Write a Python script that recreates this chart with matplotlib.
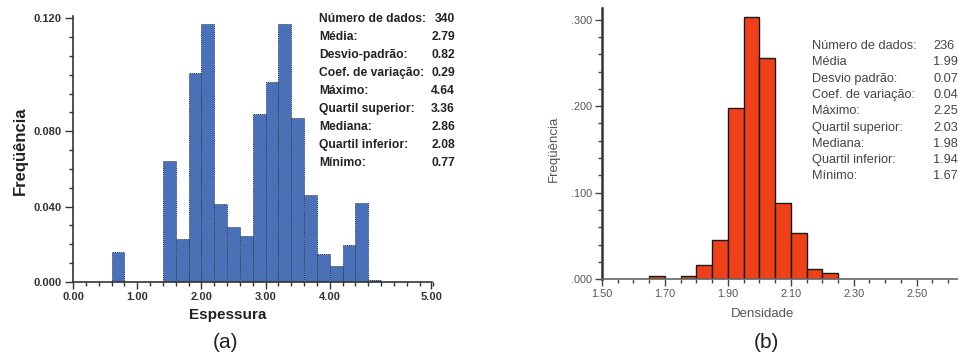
import matplotlib
matplotlib.use("Agg")
import matplotlib.pyplot as plt
from matplotlib.ticker import MultipleLocator, FixedLocator, FixedFormatter

# ---------------- data ----------------
# panel (a): thickness histogram, bins of width 0.2
a_edges_left = [0.6, 1.4, 1.6, 1.8, 2.0, 2.2, 2.4, 2.6, 2.8, 3.0, 3.2, 3.4, 3.6, 3.8, 4.0, 4.2, 4.4, 4.6]
a_heights = [0.0161, 0.0644, 0.0228, 0.111, 0.137, 0.0412, 0.0292, 0.0246, 0.0894,
             0.106, 0.137, 0.0871, 0.0462, 0.0147, 0.0083, 0.0195, 0.0421, 0.001]
a_bin_width = 0.2
a_xticks = [0.0, 1.0, 2.0, 3.0, 4.0, 5.58]
a_xticklabels = ["0.00", "1.00", "2.00", "3.00", "4.00", "5.00"]
a_yticks = [0.0, 0.04, 0.08, 0.14]
a_yticklabels = ["0.000", "0.040", "0.080", "0.120"]
a_stat_names = ["Número de dados:", "Média:", "Desvio-padrão:", "Coef. de variação:", "Máximo:",
                "Quartil superior:", "Mediana:", "Quartil inferior:", "Mínimo:"]
a_stat_values = ["340", "2.79", "0.82", "0.29", "4.64", "3.36", "2.86", "2.08", "0.77"]

# panel (b): density histogram, bins of width 0.05
b_edges_left = [1.65, 1.75, 1.80, 1.85, 1.90, 1.95, 2.00, 2.05, 2.10, 2.15, 2.20]
b_heights = [0.0042, 0.0042, 0.016, 0.0455, 0.198, 0.303, 0.256, 0.088, 0.054, 0.0115, 0.0075]
b_bin_width = 0.05
b_xticks = [1.5, 1.7, 1.9, 2.1, 2.3, 2.5]
b_xticklabels = ["1.50", "1.70", "1.90", "2.10", "2.30", "2.50"]
b_yticks = [0.0, 0.1, 0.2, 0.3]
b_yticklabels = [".000", ".100", ".200", ".300"]
b_stat_names = ["Número de dados:", "Média", "Desvio padrão:", "Coef. de variação:", "Máximo:",
                "Quartil superior:", "Mediana:", "Quartil inferior:", "Mínimo:"]
b_stat_values = ["236", "1.99", "0.07", "0.04", "2.25", "2.03", "1.98", "1.94", "1.67"]

# ---------------- figure ----------------
W, H = 958, 356
fig = plt.figure(figsize=(W / 100, H / 100), dpi=100)
plt.rcParams['font.family'] = ['Liberation Sans', 'DejaVu Sans']


def fx(px):
    return px / W


def fy(py):
    return 1 - py / H


# ---- panel (a) ----
axa = fig.add_axes([fx(73), fy(282), fx(432.5) - fx(73), fy(15.5) - fy(282)])
axa.bar(a_edges_left, a_heights, width=a_bin_width, align='edge', color='#4a70b8',
        edgecolor='#2a3550', linewidth=0.7, linestyle=(0, (1, 1)))
axa.set_xlim(0, 5.6)
axa.set_ylim(0, 0.1415)
for s in ['top', 'right']:
    axa.spines[s].set_visible(False)
for s in ['left', 'bottom']:
    axa.spines[s].set_linewidth(1.2)
    axa.spines[s].set_color('#333333')
axa.xaxis.set_major_locator(FixedLocator(a_xticks))
axa.xaxis.set_major_formatter(FixedFormatter(a_xticklabels))
axa.xaxis.set_minor_locator(MultipleLocator(0.2))
axa.yaxis.set_major_locator(FixedLocator(a_yticks))
axa.yaxis.set_major_formatter(FixedFormatter(a_yticklabels))
axa.yaxis.set_minor_locator(MultipleLocator(0.01))
axa.tick_params(which='major', length=5, width=1, color='#333333', labelsize=8,
                labelcolor='#333333', pad=2)
axa.tick_params(axis='y', which='major', length=6)
axa.tick_params(which='minor', length=3, width=1, color='#333333')
for lab in axa.get_xticklabels() + axa.get_yticklabels():
    lab.set_fontweight('bold')

fig.text(fx(228), fy(315), "Espessura", ha='center', va='center', fontsize=11,
         fontweight='bold', color='#222222')
fig.text(fx(20), fy(151), "Freqüência", ha='center', va='center', fontsize=12,
         fontweight='bold', color='#222222', rotation=90)

for i, (n, v) in enumerate(zip(a_stat_names, a_stat_values)):
    y = 19 + i * 18
    fig.text(fx(319), fy(y), n, ha='left', va='center', fontsize=8.7, fontweight='bold',
             color='#222222')
    fig.text(fx(455), fy(y), v, ha='right', va='center', fontsize=8.7, fontweight='bold',
             color='#222222')

fig.text(fx(226), fy(343), "(a)", ha='center', va='center', fontsize=15, color='#222222')

# ---- panel (b) ----
axb = fig.add_axes([fx(602), fy(279.3), 1 - fx(602), fy(8.3) - fy(279.3)])
axb.bar(b_edges_left, b_heights, width=b_bin_width, align='edge', color='#ee4119',
        edgecolor='#1a1a1a', linewidth=1.0)
axb.set_xlim(1.5, 1.5 + (958 - 602) / 314.7)
axb.set_ylim(0, 0.313)
for s in ['top', 'right']:
    axb.spines[s].set_visible(False)
axb.spines['left'].set_linewidth(1.8)
axb.spines['left'].set_color('#333333')
axb.spines['bottom'].set_linewidth(1.2)
axb.spines['bottom'].set_color('#666666')
axb.xaxis.set_major_locator(FixedLocator(b_xticks))
axb.xaxis.set_major_formatter(FixedFormatter(b_xticklabels))
axb.xaxis.set_minor_locator(MultipleLocator(0.05))
axb.yaxis.set_major_locator(FixedLocator(b_yticks))
axb.yaxis.set_major_formatter(FixedFormatter(b_yticklabels))
axb.yaxis.set_minor_locator(MultipleLocator(0.02))
axb.tick_params(which='major', length=5, width=1, color='#444444', labelsize=7.8,
                labelcolor='#555555', pad=2)
axb.tick_params(which='minor', length=3, width=1, color='#444444')

fig.text(fx(763), fy(314), "Densidade", ha='center', va='center', fontsize=9.5, color='#555555')
fig.text(fx(554), fy(149), "Freqüência", ha='center', va='center', fontsize=9.5,
         color='#555555', rotation=90)

for i, (n, v) in enumerate(zip(b_stat_names, b_stat_values)):
    y = 46 + i * 16.3
    fig.text(fx(812), fy(y), n, ha='left', va='center', fontsize=9.2, color='#444444')
    fig.text(fx(933), fy(y), v, ha='left', va='center', fontsize=9.2, color='#444444')

fig.text(fx(766), fy(343), "(b)", ha='center', va='center', fontsize=15, color='#222222')

fig.savefig("out.png", dpi=100)
